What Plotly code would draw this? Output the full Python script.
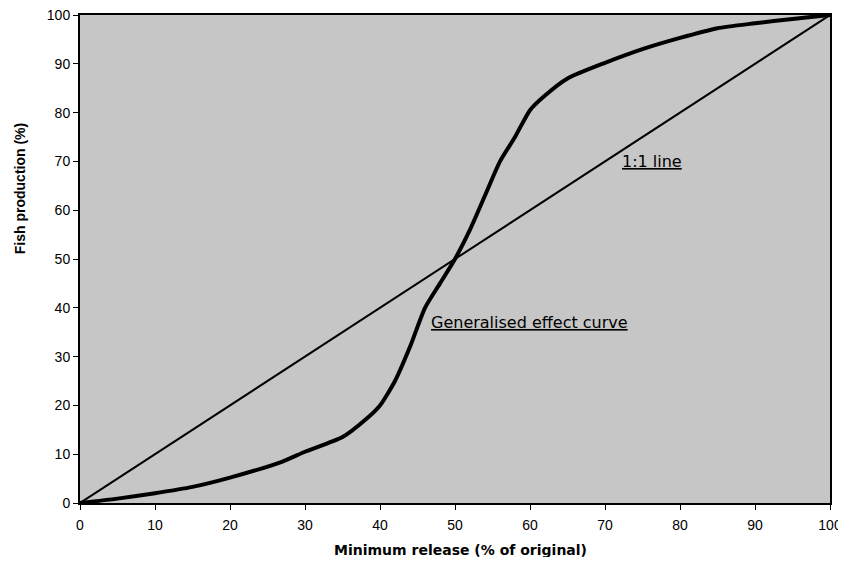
import plotly.graph_objects as go

release = [0, 5, 10, 15, 20, 27, 30, 35, 38, 40, 42, 44, 46, 48, 50, 52, 54, 56, 58, 60, 62, 65, 70, 75, 80, 85, 90, 95, 100]
production = [0, 0.9, 2.0, 3.3, 5.2, 8.5, 10.5, 13.5, 17, 20, 25, 32, 40, 45, 50, 56, 63, 70, 75, 80.5, 83.5, 87, 90.2, 93, 95.3, 97.3, 98.3, 99.2, 100]
one_to_one_x = [0, 100]
one_to_one_y = [0, 100]
x_ticks = [0, 10, 20, 30, 40, 50, 60, 70, 80, 90, 100]
y_ticks = [0, 10, 20, 30, 40, 50, 60, 70, 80, 90, 100]

fig = go.Figure()
fig.add_trace(go.Scatter(x=one_to_one_x, y=one_to_one_y, mode="lines",
                         line=dict(color="black", width=2), showlegend=False))
fig.add_trace(go.Scatter(x=release, y=production, mode="lines",
                         line=dict(color="black", width=4, shape="spline", smoothing=0.6),
                         showlegend=False))

ann_font = dict(family="DejaVu Sans", size=16, color="black")
fig.add_annotation(x=72, y=70, text="<u>1:1 line</u>", showarrow=False,
                   xanchor="left", yanchor="middle", font=ann_font)
fig.add_annotation(x=46.5, y=37, text="<u>Generalised effect curve</u>", showarrow=False,
                   xanchor="left", yanchor="middle", font=ann_font)

# axis titles
fig.add_annotation(x=50.7, xref="x", y=0, yref="paper", yshift=-47,
                   text="Minimum release (% of original)", showarrow=False,
                   xanchor="center", yanchor="middle",
                   font=dict(family="DejaVu Sans", size=14, color="black", weight="bold"))
fig.add_annotation(x=0, xref="paper", xshift=-60, y=64.3, yref="y",
                   text="Fish production (%)", showarrow=False, textangle=-90,
                   xanchor="center", yanchor="middle",
                   font=dict(family="Liberation Sans, Arial", size=14, color="black", weight="bold"))

axis_common = dict(showgrid=False, zeroline=False, showline=True, linecolor="black",
                   linewidth=2, mirror=True, ticks="outside", ticklen=5, tickwidth=1,
                   tickcolor="black", automargin=False, ticklabeloverflow="allow",
                   tickfont=dict(family="Liberation Sans, Arial", size=14, color="black"))

fig.update_xaxes(range=[0, 100], tickvals=x_ticks, ticklabelstandoff=3, **axis_common)
fig.update_yaxes(range=[0, 100], tickvals=y_ticks, **axis_common)

fig.update_layout(width=838, height=549, paper_bgcolor="white", plot_bgcolor="#c6c6c6",
                  margin=dict(l=72, r=16, t=7, b=54))

fig.write_html("out.html")
